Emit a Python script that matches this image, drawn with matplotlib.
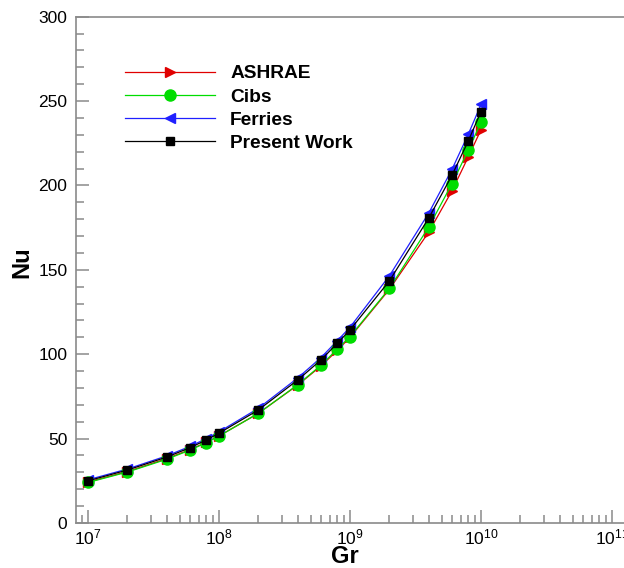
import numpy as np
import matplotlib
matplotlib.use("Agg")
import matplotlib.pyplot as plt
from matplotlib.ticker import LogLocator, FixedLocator, MultipleLocator, FuncFormatter

plt.rcParams['font.family'] = ['Liberation Sans', 'DejaVu Sans']
plt.rcParams['mathtext.fontset'] = 'custom'
plt.rcParams['mathtext.rm'] = 'Liberation Sans'
plt.rcParams['mathtext.it'] = 'Liberation Sans'

# %% Data
gr = [1e7, 2e7, 4e7, 6e7, 8e7, 1e8, 2e8, 4e8, 6e8, 8e8,
      1e9, 2e9, 4e9, 6e9, 8e9, 1e10]
nu_ashrae = [24.3, 30.5, 38.2, 43.5, 47.8, 51.6, 65.0, 81.8, 93.0, 102.3,
             110.0, 138.5, 172.5, 196.8, 217.0, 233.0]
nu_cibs = [24.0, 30.2, 37.8, 43.2, 47.6, 51.5, 65.0, 82.0, 93.5, 103.0,
           110.5, 139.0, 175.5, 201.0, 221.0, 237.4]
nu_ferries = [25.6, 32.0, 39.8, 45.4, 50.0, 54.0, 68.0, 86.0, 98.0, 108.0,
              116.0, 146.5, 183.8, 209.5, 230.4, 248.0]
nu_present = [25.0, 31.4, 39.1, 44.6, 49.2, 53.2, 67.0, 84.8, 96.6, 106.5,
              114.4, 143.5, 180.8, 206.0, 226.4, 243.8]

# %% Figure
W, H = 624, 568
fig = plt.figure(figsize=(W / 100, H / 100), dpi=100)

# axes runs past the right edge of the picture (cropped like the original)
x_left_px, x_bot_px, y_top_px = 75.7, 523, 16.7
decade_px = 131.0
xmin_log, xmax_log = 6.906, 11.5
ax_w = (xmax_log - xmin_log) * decade_px
ax_h = x_bot_px - y_top_px
ax = fig.add_axes([x_left_px / W, (H - x_bot_px) / H, ax_w / W, ax_h / H])

ax.plot(gr, nu_ashrae, color='#e00000', lw=0.9, marker='>', ms=7,
        mec='#e00000', mfc='#e00000', label='ASHRAE')
ax.plot(gr, nu_ferries, color='#2020ff', lw=0.9, marker='<', ms=7,
        mec='#2020ff', mfc='#2020ff', label='Ferries')
ax.plot(gr, nu_cibs, color='#00dd00', lw=0.9, marker='o', ms=8,
        mec='#00dd00', mfc='#00dd00', label='Cibs')
ax.plot(gr, nu_present, color='black', lw=0.9, marker='s', ms=6,
        mec='black', mfc='black', label='Present Work')

ax.set_xscale('log')
ax.set_xlim(10 ** xmin_log, 10 ** xmax_log)
ax.set_ylim(0, 300)

ax.xaxis.set_major_locator(FixedLocator([1e7, 1e8, 1e9, 1e10, 1e11]))
ax.xaxis.set_minor_locator(LogLocator(base=10, subs=np.arange(2, 10), numticks=20))
ax.xaxis.set_major_formatter(FuncFormatter(lambda v, p: r'$10^{%d}$' % round(np.log10(v))))
ax.yaxis.set_major_locator(MultipleLocator(50))
ax.yaxis.set_minor_locator(MultipleLocator(10))

spine_c = '#8a8a8a'
for s in ['left', 'bottom', 'top', 'right']:
    ax.spines[s].set_color(spine_c)
    ax.spines[s].set_linewidth(1.2)

ax.tick_params(which='both', direction='in', color=spine_c, width=1.1,
               top=False, right=False, labelsize=12.5)
ax.tick_params(which='major', length=9.4)
ax.tick_params(which='minor', length=5.8)
ax.tick_params(axis='y', pad=6)
ax.tick_params(axis='x', pad=3)

ax.set_xlabel('Gr', fontsize=17, fontweight='bold')
ax.set_ylabel('Nu', fontsize=17, fontweight='bold')
ax.xaxis.set_label_coords((345 - x_left_px) / ax_w, -(545 - x_bot_px) / ax_h)
ax.yaxis.set_label_coords(-(x_left_px - 33) / ax_w, (x_bot_px - 262) / ax_h)

handles, labels = ax.get_legend_handles_labels()
order = [0, 2, 1, 3]
leg = ax.legend([handles[i] for i in order], [labels[i] for i in order],
                loc='upper left', frameon=False,
                bbox_to_anchor=(125 / W, (H - 65) / H), bbox_transform=fig.transFigure,
                prop={'weight': 'bold', 'size': 13.8}, handlelength=4.7,
                handletextpad=0.78, labelspacing=0.3, borderpad=0, borderaxespad=0)

fig.savefig('out.png', dpi=100)
